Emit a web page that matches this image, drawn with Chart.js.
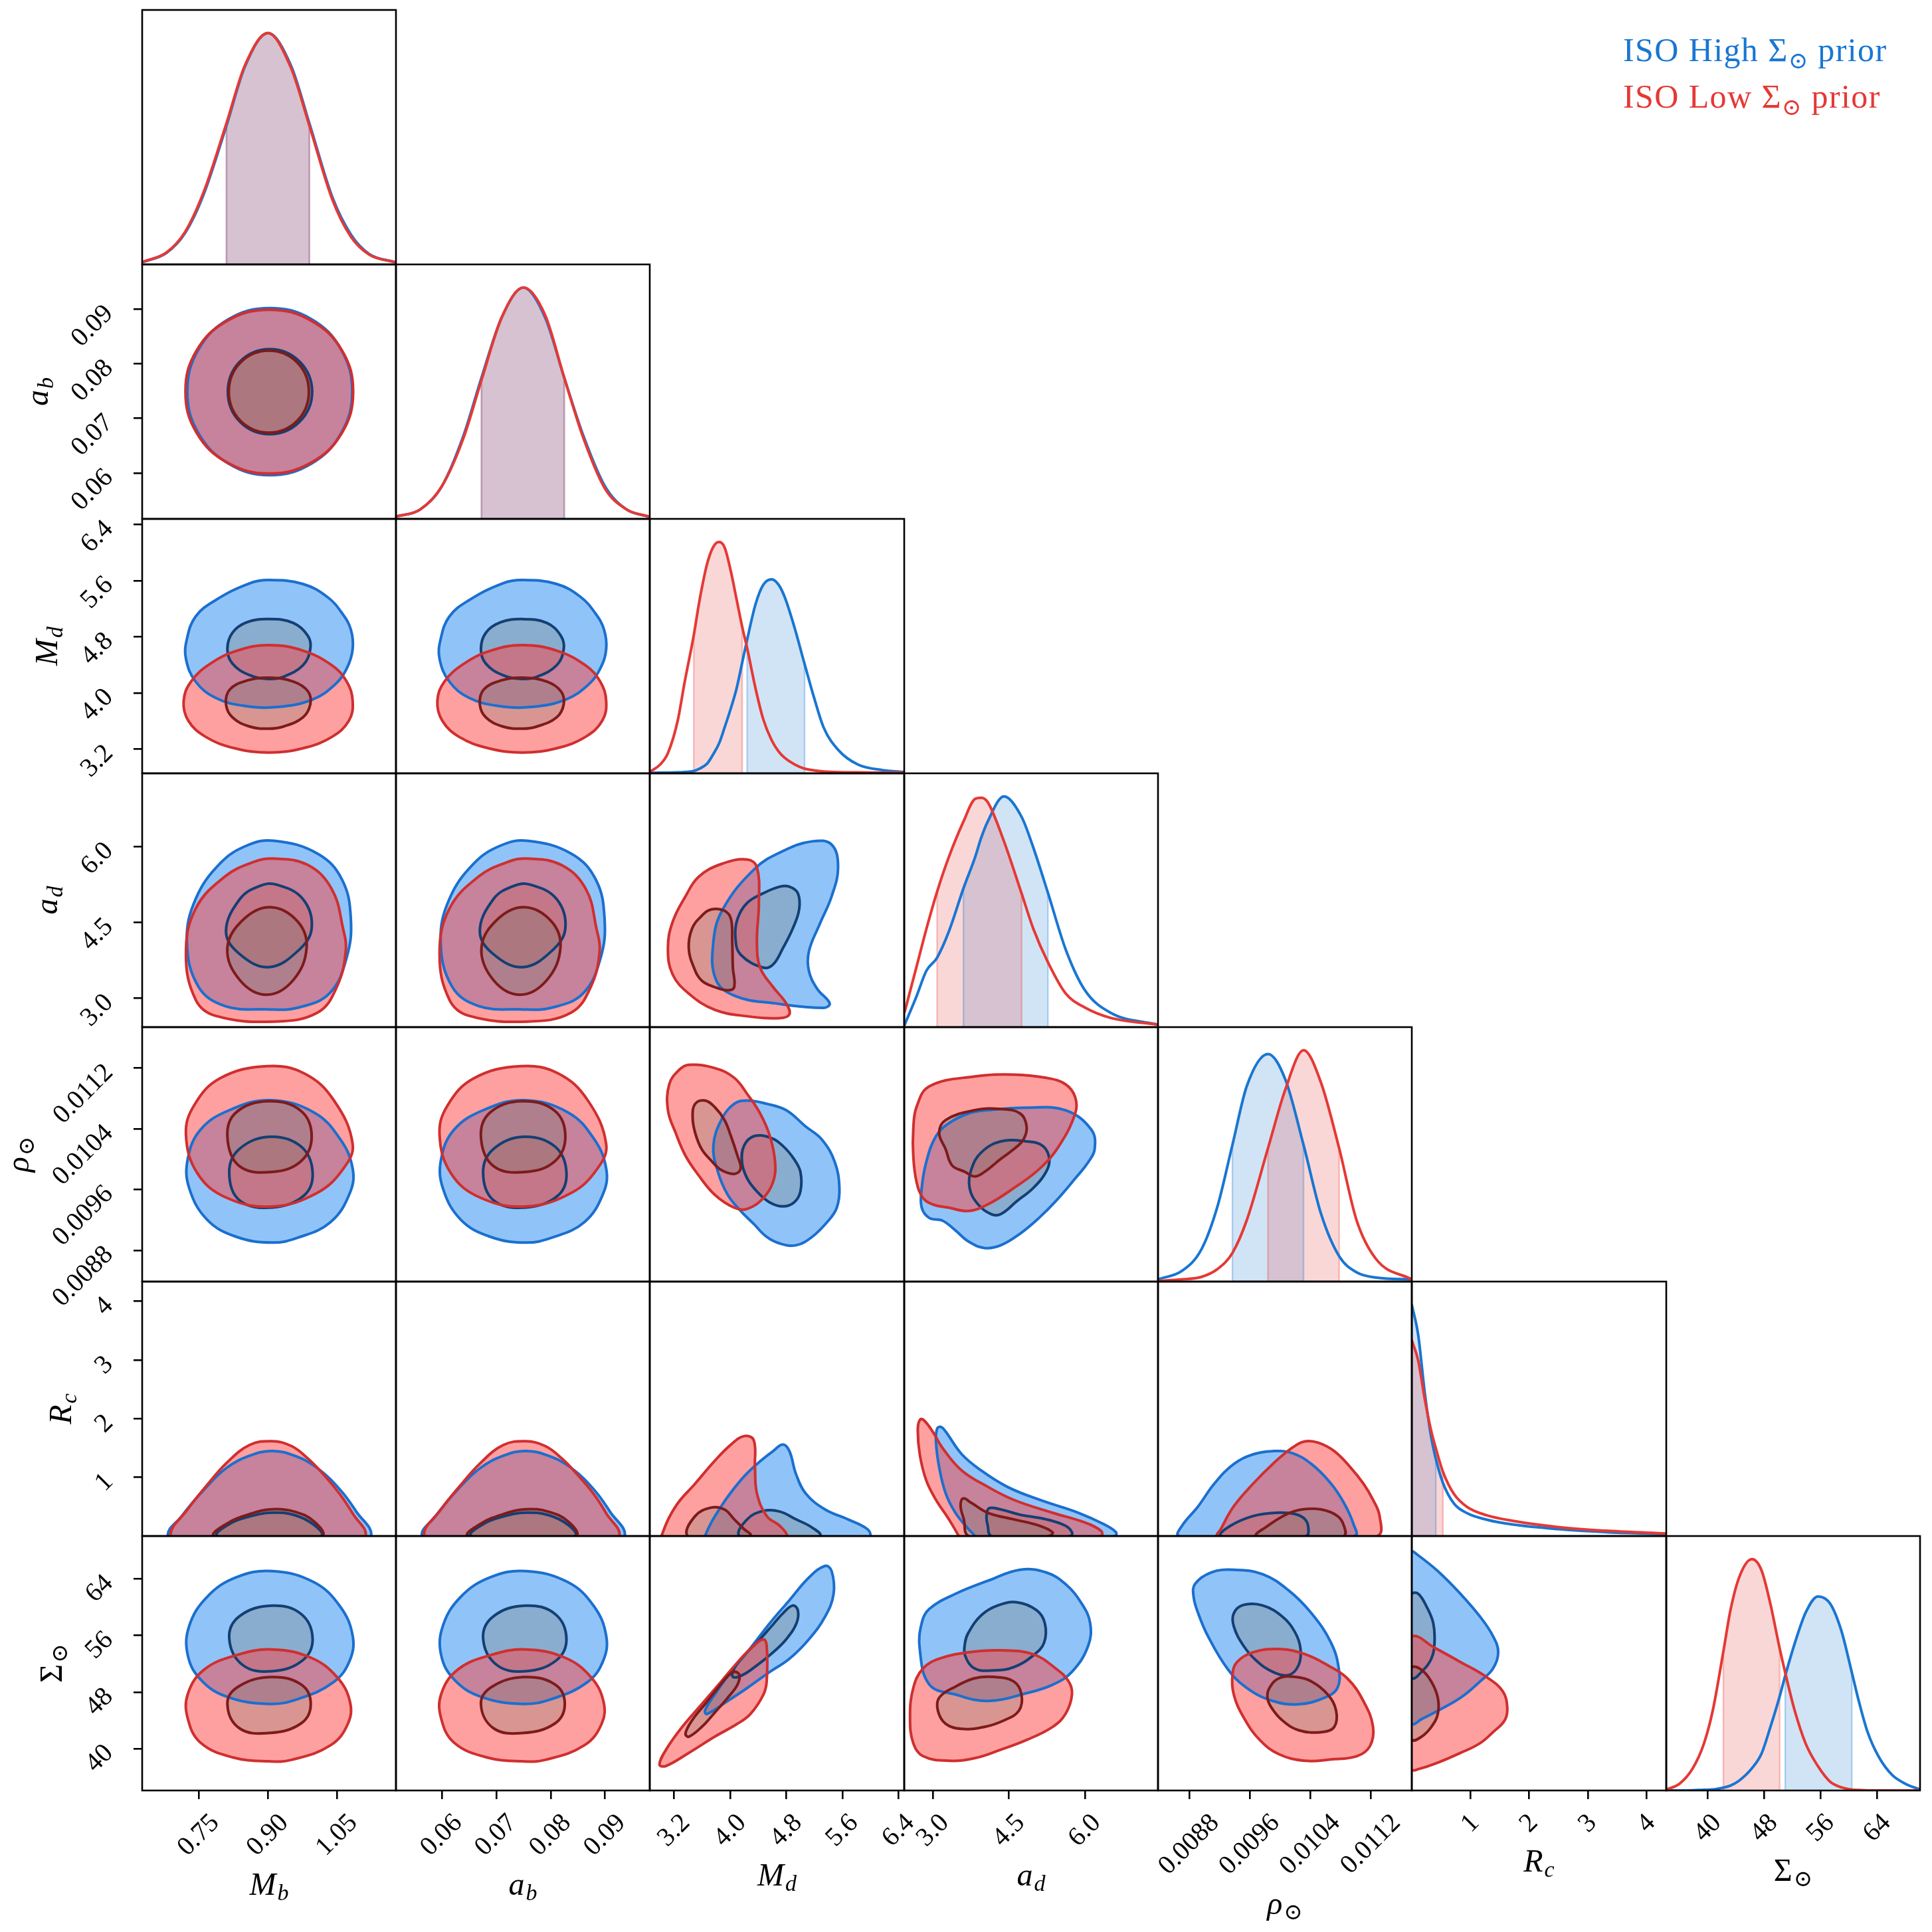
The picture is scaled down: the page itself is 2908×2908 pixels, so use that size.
<!DOCTYPE html>
<html>
<head>
<meta charset="utf-8">
<script src="https://cdn.jsdelivr.net/npm/chart.js@4/dist/chart.umd.min.js"></script>
<style>
  html, body { margin: 0; padding: 0; background: #fff; }
  body { width: 2908px; height: 2908px; position: relative; overflow: hidden; }
  canvas { position: absolute; }
  .legend { position: absolute; left: 2443px; font-family: "Liberation Serif", "DejaVu Serif", "DejaVu Sans", serif; font-size: 50px; letter-spacing: 1.4px; line-height: 50px; white-space: nowrap; }
  .legend sub { font-size: 35px; vertical-align: baseline; position: relative; top: 11px; }
</style>
</head>
<body>
<script>
// parameter order: M_b, a_b, M_d, a_d, rho_sun, R_c, Sigma_sun
const axisMin = [0.627, 0.0516, 2.852, 2.43, 0.008387, 0, 34.1];
const axisMax = [1.178, 0.0982, 6.48, 7.445, 0.01174, 4.335, 70.05];
const tickValues = [
  [0.75, 0.90, 1.05],
  [0.06, 0.07, 0.08, 0.09],
  [3.2, 4.0, 4.8, 5.6, 6.4],
  [3.0, 4.5, 6.0],
  [0.0088, 0.0096, 0.0104, 0.0112],
  [1, 2, 3, 4],
  [40, 48, 56, 64]
];
const tickLabels = [
  ["0.75", "0.90", "1.05"],
  ["0.06", "0.07", "0.08", "0.09"],
  ["3.2", "4.0", "4.8", "5.6", "6.4"],
  ["3.0", "4.5", "6.0"],
  ["0.0088", "0.0096", "0.0104", "0.0112"],
  ["1", "2", "3", "4"],
  ["40", "48", "56", "64"]
];
const titleMain = ["M", "a", "M", "a", "ρ", "R", "Σ"];
const titleSub = ["b", "b", "d", "d", "⊙", "c", "⊙"];
const legendLabels = ["ISO High Σ⊙ prior", "ISO Low Σ⊙ prior"];

// 1D marginals (relative density), high prior / low prior, and 16-84% bands
const mbGrid = [0.63, 0.68, 0.72, 0.76, 0.81, 0.85, 0.90, 0.95, 0.99, 1.04, 1.08, 1.12, 1.175];
const mbHigh = [0.011, 0.05, 0.135, 0.30, 0.60, 0.855, 1.0, 0.86, 0.61, 0.29, 0.13, 0.045, 0.01];
const mbLow = [0.012, 0.052, 0.14, 0.31, 0.61, 0.86, 1.0, 0.85, 0.60, 0.28, 0.12, 0.042, 0.01];
const mbBandHigh = [0.81, 0.99];
const mbBandLow = [0.81, 0.99];

const abGrid = [0.0516, 0.056, 0.060, 0.064, 0.0673, 0.071, 0.075, 0.079, 0.0825, 0.086, 0.090, 0.094, 0.098];
const abHigh = [0.01, 0.04, 0.14, 0.36, 0.61, 0.87, 1.0, 0.87, 0.61, 0.36, 0.14, 0.04, 0.01];
const abLow = [0.01, 0.04, 0.14, 0.35, 0.60, 0.87, 1.0, 0.88, 0.61, 0.35, 0.13, 0.04, 0.01];
const abBandHigh = [0.0673, 0.0825];
const abBandLow = [0.0673, 0.0825];

const mdGrid = [2.86, 3.0, 3.11, 3.25, 3.35, 3.48, 3.56, 3.67, 3.76, 3.84, 3.92, 4.01, 4.09, 4.17, 4.24, 4.36, 4.47, 4.59, 4.69, 4.78, 4.92, 5.06, 5.19, 5.33, 5.54, 5.82, 6.17, 6.48];
const mdHigh = [0.001, 0.003, 0.003, 0.004, 0.006, 0.010, 0.020, 0.042, 0.084, 0.129, 0.199, 0.283, 0.367, 0.479, 0.577, 0.731, 0.815, 0.839, 0.815, 0.759, 0.626, 0.472, 0.332, 0.199, 0.101, 0.038, 0.014, 0.006];
const mdLow = [0.008, 0.038, 0.087, 0.227, 0.395, 0.598, 0.745, 0.906, 0.980, 1.0, 0.976, 0.871, 0.752, 0.633, 0.542, 0.367, 0.234, 0.143, 0.094, 0.066, 0.038, 0.020, 0.013, 0.008, 0.005, 0.004, 0.003, 0.003];
const mdBandHigh = [4.24, 5.06];
const mdBandLow = [3.48, 4.17];

const adGrid = [2.44, 2.67, 2.87, 3.08, 3.31, 3.60, 3.83, 3.95, 4.08, 4.40, 4.75, 4.98, 5.27, 5.62, 6.0, 6.51, 7.44];
const adHigh = [0.011, 0.132, 0.245, 0.301, 0.413, 0.601, 0.736, 0.820, 0.891, 1.0, 0.911, 0.779, 0.582, 0.337, 0.160, 0.062, 0.011];
const adLow = [0.067, 0.259, 0.427, 0.587, 0.736, 0.891, 0.989, 0.994, 0.975, 0.806, 0.579, 0.427, 0.281, 0.146, 0.085, 0.040, 0.011];
const adBandHigh = [3.60, 5.27];
const adBandLow = [3.08, 4.75];

const rhoGrid = [0.0084, 0.0087, 0.00896, 0.00917, 0.00937, 0.00956, 0.00984, 0.01007, 0.01031, 0.01054, 0.01078, 0.01101, 0.01127, 0.01174];
const rhoHigh = [0.011, 0.045, 0.138, 0.320, 0.587, 0.840, 0.978, 0.868, 0.587, 0.292, 0.109, 0.040, 0.017, 0.009];
const rhoLow = [0.003, 0.009, 0.020, 0.053, 0.123, 0.264, 0.573, 0.826, 0.994, 0.855, 0.573, 0.264, 0.096, 0.009];
const rhoBandHigh = [0.00937, 0.01031];
const rhoBandLow = [0.00984, 0.01078];

const rcGrid = [0, 0.11, 0.22, 0.33, 0.41, 0.53, 0.72, 0.94, 1.27, 1.71, 2.49, 3.37, 4.335];
const rcHigh = [1.0, 0.868, 0.621, 0.428, 0.333, 0.230, 0.140, 0.099, 0.071, 0.050, 0.030, 0.016, 0.009];
const rcLow = [0.846, 0.758, 0.593, 0.455, 0.379, 0.278, 0.181, 0.126, 0.090, 0.066, 0.039, 0.022, 0.011];
const rcBandHigh = [0, 0.41];
const rcBandLow = [0, 0.53];

const sigGrid = [34.1, 35.98, 37.86, 39.43, 40.69, 42.19, 43.2, 44.45, 46.24, 47.59, 48.84, 50.16, 50.95, 52.29, 53.86, 55.59, 57.31, 58.88, 60.39, 61.39, 62.65, 64.21, 66.1, 67.98, 70.05];
const sigHigh = [0, 0, 0.001, 0.003, 0.004, 0.012, 0.021, 0.043, 0.096, 0.159, 0.273, 0.406, 0.496, 0.635, 0.770, 0.839, 0.808, 0.693, 0.510, 0.385, 0.250, 0.145, 0.067, 0.029, 0.004];
const sigLow = [0.004, 0.029, 0.096, 0.202, 0.346, 0.601, 0.780, 0.923, 1.0, 0.952, 0.808, 0.615, 0.510, 0.346, 0.202, 0.105, 0.038, 0.014, 0.004, 0.002, 0, 0, 0, 0, 0];
const sigBandHigh = [50.95, 60.39];
const sigBandLow = [42.19, 50.16];

// 2D credible contours [x, y]: hiOut/hiIn = high prior outer/inner, loOut/loIn = low prior
const ab_mb_hiOut = [[1.083,0.0749],[1.059,0.0826],[0.994,0.0882],[0.904,0.0902],[0.815,0.0882],[0.749,0.0826],[0.725,0.0749],[0.749,0.0673],[0.815,0.0617],[0.904,0.0596],[0.994,0.0617],[1.059,0.0673]];
const ab_mb_hiIn = [[0.996,0.0749],[0.969,0.0804],[0.904,0.0827],[0.839,0.0804],[0.813,0.0749],[0.839,0.0694],[0.904,0.0671],[0.969,0.0694]];
const ab_mb_loOut = [[1.085,0.0749],[1.061,0.0824],[0.994,0.0879],[0.903,0.0899],[0.812,0.0879],[0.745,0.0824],[0.721,0.0749],[0.745,0.0674],[0.812,0.0619],[0.903,0.0599],[0.994,0.0619],[1.061,0.0674]];
const ab_mb_loIn = [[0.989,0.0749],[0.964,0.0802],[0.902,0.0824],[0.840,0.0802],[0.815,0.0749],[0.840,0.0696],[0.902,0.0674],[0.964,0.0696]];

const md_mb_hiOut = [[0.902,5.608],[0.976,5.552],[1.029,5.367],[1.061,5.135],[1.080,4.903],[1.084,4.624],[1.071,4.346],[1.045,4.114],[0.997,3.905],[0.923,3.799],[0.849,3.813],[0.786,3.929],[0.743,4.160],[0.722,4.485],[0.724,4.764],[0.743,5.088],[0.786,5.320],[0.860,5.561]];
const md_mb_hiIn = [[0.902,5.051],[0.955,4.996],[0.987,4.810],[0.992,4.624],[0.976,4.392],[0.934,4.230],[0.902,4.198],[0.860,4.253],[0.823,4.416],[0.812,4.624],[0.823,4.856],[0.854,5.005]];
const md_mb_loOut = [[0.902,4.680],[0.976,4.601],[1.039,4.392],[1.071,4.161],[1.084,3.882],[1.076,3.604],[1.039,3.372],[0.976,3.210],[0.902,3.149],[0.828,3.210],[0.765,3.372],[0.727,3.604],[0.717,3.882],[0.733,4.161],[0.775,4.416],[0.833,4.601]];
const md_mb_loIn = [[0.902,4.216],[0.955,4.161],[0.987,4.021],[0.992,3.836],[0.976,3.650],[0.934,3.520],[0.902,3.488],[0.860,3.520],[0.823,3.650],[0.809,3.836],[0.817,4.045],[0.854,4.174]];

const md_ab_hiOut = [[0.0748,5.608],[0.0811,5.552],[0.0855,5.367],[0.0882,5.135],[0.0898,4.903],[0.0902,4.624],[0.0891,4.346],[0.0869,4.114],[0.0828,3.905],[0.0766,3.799],[0.0703,3.813],[0.0650,3.929],[0.0614,4.160],[0.0596,4.485],[0.0598,4.764],[0.0614,5.088],[0.0650,5.320],[0.0712,5.561]];
const md_ab_hiIn = [[0.0748,5.051],[0.0793,4.996],[0.0819,4.810],[0.0824,4.624],[0.0811,4.392],[0.0775,4.230],[0.0748,4.198],[0.0712,4.253],[0.0681,4.416],[0.0672,4.624],[0.0681,4.856],[0.0708,5.005]];
const md_ab_loOut = [[0.0748,4.680],[0.0811,4.601],[0.0864,4.392],[0.0891,4.161],[0.0902,3.882],[0.0895,3.604],[0.0864,3.372],[0.0811,3.210],[0.0748,3.149],[0.0686,3.210],[0.0632,3.372],[0.0601,3.604],[0.0592,3.882],[0.0605,4.161],[0.0641,4.416],[0.0690,4.601]];
const md_ab_loIn = [[0.0748,4.216],[0.0793,4.161],[0.0819,4.021],[0.0824,3.836],[0.0811,3.650],[0.0775,3.520],[0.0748,3.488],[0.0712,3.520],[0.0681,3.650],[0.0670,3.836],[0.0677,4.045],[0.0708,4.174]];

const ad_mb_hiOut = [[0.913,6.113],[1.008,5.857],[1.061,5.344],[1.080,4.576],[1.071,3.807],[1.034,3.102],[0.965,2.814],[0.897,2.782],[0.807,2.846],[0.749,3.231],[0.724,4.127],[0.743,4.960],[0.796,5.664],[0.854,6.017]];
const ad_mb_hiIn = [[0.918,5.248],[0.976,4.960],[0.995,4.383],[0.965,3.935],[0.902,3.615],[0.839,3.871],[0.809,4.319],[0.839,4.960],[0.881,5.216]];
const ad_mb_loOut = [[0.913,5.760],[0.987,5.632],[1.039,5.152],[1.063,4.383],[1.069,3.935],[1.050,3.231],[1.008,2.718],[0.913,2.539],[0.786,2.654],[0.743,2.974],[0.722,3.871],[0.743,4.768],[0.807,5.408],[0.870,5.696]];
const ad_mb_loIn = [[0.907,4.800],[0.965,4.512],[0.984,3.999],[0.955,3.359],[0.897,3.070],[0.839,3.359],[0.812,3.999],[0.849,4.576]];

const ad_ab_hiOut = [[0.0757,6.113],[0.0838,5.857],[0.0883,5.344],[0.0899,4.576],[0.0892,3.807],[0.0860,3.102],[0.0802,2.814],[0.0744,2.782],[0.0668,2.846],[0.0619,3.231],[0.0598,4.127],[0.0614,4.960],[0.0659,5.664],[0.0708,6.017]];
const ad_ab_hiIn = [[0.0762,5.248],[0.0811,4.960],[0.0827,4.383],[0.0802,3.935],[0.0749,3.615],[0.0695,3.871],[0.0670,4.319],[0.0695,4.960],[0.0731,5.216]];
const ad_ab_loOut = [[0.0757,5.760],[0.0820,5.632],[0.0865,5.152],[0.0884,4.383],[0.0890,3.935],[0.0874,3.231],[0.0838,2.718],[0.0757,2.539],[0.0650,2.654],[0.0614,2.974],[0.0596,3.871],[0.0614,4.768],[0.0668,5.408],[0.0722,5.696]];
const ad_ab_loIn = [[0.0753,4.800],[0.0802,4.512],[0.0818,3.999],[0.0793,3.359],[0.0744,3.070],[0.0695,3.359],[0.0673,3.999],[0.0704,4.576]];

const ad_md_hiOut = [[5.167,6.101],[5.445,6.037],[5.537,5.589],[5.445,5.013],[5.278,4.475],[5.121,3.925],[5.121,3.541],[5.241,3.183],[5.417,2.901],[5.334,2.811],[4.630,2.901],[4.074,3.042],[3.797,3.362],[3.759,4.117],[3.898,4.770],[4.352,5.563],[4.750,5.909]];
const ad_md_hiIn = [[4.843,5.205],[4.963,5.077],[4.982,4.757],[4.889,4.373],[4.750,3.989],[4.611,3.669],[4.473,3.605],[4.148,3.861],[4.074,4.181],[4.102,4.565],[4.241,4.885],[4.473,5.077],[4.704,5.205]];
const ad_md_loOut = [[4.241,5.743],[4.380,5.589],[4.408,4.885],[4.380,4.117],[4.426,3.605],[4.611,3.221],[4.797,2.901],[4.843,2.683],[4.704,2.607],[4.241,2.645],[3.778,2.773],[3.408,3.093],[3.176,3.477],[3.111,3.989],[3.176,4.501],[3.361,5.013],[3.547,5.397],[3.871,5.653]];
const ad_md_loIn = [[3.732,4.757],[3.917,4.731],[4.010,4.565],[4.028,4.117],[4.037,3.605],[4.056,3.221],[3.963,3.157],[3.778,3.221],[3.593,3.349],[3.482,3.605],[3.408,3.989],[3.454,4.373],[3.593,4.629]];

const rho_mb_hiOut = [[0.905,0.010777],[1.000,0.010616],[1.057,0.010263],[1.084,0.009877],[1.078,0.009556],[1.036,0.009171],[0.965,0.008965],[0.909,0.008901],[0.831,0.008978],[0.768,0.009203],[0.729,0.009620],[0.726,0.010006],[0.754,0.010391],[0.817,0.010648]];
const rho_mb_hiIn = [[0.905,0.010295],[0.972,0.010166],[0.997,0.009832],[0.979,0.009524],[0.909,0.009363],[0.838,0.009460],[0.816,0.009832],[0.838,0.010134]];
const rho_mb_loOut = [[0.898,0.011226],[0.979,0.011130],[1.043,0.010777],[1.084,0.010198],[1.064,0.009877],[1.007,0.009556],[0.909,0.009376],[0.810,0.009492],[0.747,0.009813],[0.722,0.010327],[0.740,0.010712],[0.796,0.011066]];
const rho_mb_loIn = [[0.902,0.010764],[0.972,0.010635],[0.995,0.010295],[0.972,0.009974],[0.909,0.009832],[0.838,0.009909],[0.812,0.010295],[0.831,0.010616]];

const rho_ab_hiOut = [[0.0751,0.010777],[0.0832,0.010616],[0.0880,0.010263],[0.0902,0.009877],[0.0897,0.009556],[0.0862,0.009171],[0.0802,0.008965],[0.0754,0.008901],[0.0689,0.008978],[0.0635,0.009203],[0.0602,0.009620],[0.0599,0.010006],[0.0623,0.010391],[0.0677,0.010648]];
const rho_ab_hiIn = [[0.0751,0.010295],[0.0808,0.010166],[0.0829,0.009832],[0.0814,0.009524],[0.0754,0.009363],[0.0695,0.009460],[0.0676,0.009832],[0.0695,0.010134]];
const rho_ab_loOut = [[0.0745,0.011226],[0.0814,0.011130],[0.0868,0.010777],[0.0902,0.010198],[0.0886,0.009877],[0.0838,0.009556],[0.0754,0.009376],[0.0671,0.009492],[0.0617,0.009813],[0.0596,0.010327],[0.0611,0.010712],[0.0659,0.011066]];
const rho_ab_loIn = [[0.0748,0.010764],[0.0808,0.010635],[0.0827,0.010295],[0.0808,0.009974],[0.0754,0.009832],[0.0695,0.009909],[0.0672,0.010295],[0.0689,0.010616]];

const rho_md_hiOut = [[4.241,0.010773],[4.519,0.010730],[4.797,0.010645],[5.074,0.010431],[5.306,0.010259],[5.491,0.009960],[5.556,0.009618],[5.519,0.009361],[5.399,0.009190],[5.167,0.008976],[4.936,0.008865],[4.704,0.008890],[4.519,0.008976],[4.334,0.009147],[4.148,0.009318],[3.963,0.009532],[3.824,0.009832],[3.759,0.010174],[3.871,0.010516],[4.056,0.010730]];
const rho_md_hiIn = [[4.334,0.010302],[4.565,0.010285],[4.750,0.010174],[4.908,0.010003],[5.000,0.009832],[5.000,0.009575],[4.908,0.009429],[4.750,0.009378],[4.565,0.009429],[4.380,0.009575],[4.241,0.009746],[4.167,0.009960],[4.195,0.010174]];
const rho_md_loOut = [[3.408,0.011244],[3.778,0.011201],[4.056,0.011072],[4.241,0.010859],[4.426,0.010602],[4.565,0.010302],[4.639,0.009960],[4.611,0.009703],[4.473,0.009489],[4.241,0.009344],[4.056,0.009361],[3.778,0.009532],[3.547,0.009789],[3.361,0.010046],[3.222,0.010345],[3.111,0.010645],[3.130,0.010987],[3.269,0.011175]];
const rho_md_loIn = [[3.500,0.010730],[3.639,0.010773],[3.778,0.010687],[3.917,0.010516],[4.010,0.010302],[4.102,0.010046],[4.148,0.009874],[4.056,0.009806],[3.871,0.009857],[3.732,0.009977],[3.593,0.010131],[3.500,0.010345],[3.463,0.010559]];

const rho_ad_hiOut = [[4.081,0.010645],[4.849,0.010679],[5.617,0.010645],[6.129,0.010388],[6.193,0.010131],[6.065,0.009960],[5.809,0.009746],[5.425,0.009447],[5.105,0.009233],[4.721,0.009019],[4.337,0.008865],[4.017,0.008830],[3.697,0.008916],[3.441,0.009062],[3.185,0.009190],[2.929,0.009224],[2.776,0.009361],[2.776,0.009618],[2.865,0.009960],[3.057,0.010302],[3.313,0.010473],[3.697,0.010602]];
const rho_ad_hiIn = [[4.337,0.010234],[4.849,0.010234],[5.169,0.010174],[5.297,0.010003],[5.233,0.009832],[4.977,0.009618],[4.657,0.009447],[4.337,0.009276],[4.145,0.009276],[3.889,0.009404],[3.723,0.009618],[3.761,0.009874],[3.953,0.010089]];
const rho_ad_loOut = [[2.929,0.010961],[3.825,0.011090],[4.593,0.011115],[5.233,0.011072],[5.617,0.010987],[5.809,0.010816],[5.809,0.010602],[5.489,0.010174],[5.105,0.009874],[4.593,0.009618],[4.081,0.009404],[3.697,0.009318],[3.313,0.009361],[2.993,0.009404],[2.801,0.009489],[2.673,0.009703],[2.609,0.010046],[2.609,0.010388],[2.673,0.010687]];
const rho_ad_loIn = [[3.825,0.010645],[4.337,0.010662],[4.721,0.010602],[4.849,0.010431],[4.785,0.010259],[4.593,0.010131],[4.337,0.010003],[4.017,0.009832],[3.825,0.009772],[3.633,0.009832],[3.377,0.009917],[3.249,0.010131],[3.121,0.010345],[3.249,0.010516]];

const rc_mb_hiOut = [[0.683,0],[0.712,0.332],[0.761,0.787],[0.810,1.160],[0.860,1.367],[0.909,1.450],[0.958,1.367],[1.007,1.160],[1.057,0.787],[1.092,0.415],[1.124,0],[1.07,-0.4],[0.90,-0.5],[0.73,-0.4]];
const rc_mb_hiIn = [[0.790,0],[0.817,0.207],[0.860,0.332],[0.909,0.398],[0.958,0.357],[1.000,0.191],[1.016,0],[0.90,-0.3]];
const rc_mb_loOut = [[0.689,0],[0.726,0.456],[0.768,0.870],[0.810,1.243],[0.860,1.550],[0.909,1.616],[0.951,1.533],[0.986,1.326],[1.022,1.036],[1.057,0.704],[1.085,0.373],[1.112,0],[1.06,-0.4],[0.90,-0.5],[0.74,-0.4]];
const rc_mb_loIn = [[0.783,0],[0.810,0.207],[0.860,0.373],[0.909,0.456],[0.958,0.415],[1.000,0.249],[1.018,0],[0.90,-0.3]];

const rc_ab_hiOut = [[0.0564,0],[0.0588,0.332],[0.0629,0.787],[0.0671,1.160],[0.0713,1.367],[0.0754,1.450],[0.0796,1.367],[0.0838,1.160],[0.0880,0.787],[0.0909,0.415],[0.0936,0],[0.0890,-0.4],[0.0754,-0.5],[0.0610,-0.4]];
const rc_ab_hiIn = [[0.0654,0],[0.0677,0.207],[0.0713,0.332],[0.0754,0.398],[0.0796,0.357],[0.0832,0.191],[0.0845,0],[0.0754,-0.3]];
const rc_ab_loOut = [[0.0568,0],[0.0599,0.456],[0.0635,0.870],[0.0671,1.243],[0.0713,1.550],[0.0754,1.616],[0.0790,1.533],[0.0820,1.326],[0.0850,1.036],[0.0880,0.704],[0.0903,0.373],[0.0926,0],[0.0882,-0.4],[0.0754,-0.5],[0.0620,-0.4]];
const rc_ab_loIn = [[0.0648,0],[0.0671,0.207],[0.0713,0.373],[0.0754,0.456],[0.0796,0.415],[0.0832,0.249],[0.0847,0],[0.0754,-0.3]];

const rc_md_hiOut = [[3.639,0],[3.871,0.507],[4.148,0.949],[4.380,1.226],[4.611,1.447],[4.750,1.558],[4.843,1.447],[4.936,1.060],[5.074,0.728],[5.352,0.452],[5.676,0.285],[5.954,0.119],[6.000,0],[5.95,-0.3],[4.8,-0.6],[3.6,-0.3]];
const rc_md_hiIn = [[4.130,0],[4.241,0.285],[4.473,0.429],[4.704,0.418],[4.936,0.285],[5.167,0.144],[5.278,0],[4.7,-0.3]];
const rc_md_loOut = [[3.019,0],[3.222,0.507],[3.500,0.894],[3.778,1.281],[4.010,1.558],[4.195,1.702],[4.334,1.635],[4.352,1.171],[4.380,0.728],[4.519,0.341],[4.704,0.175],[4.815,0],[4.85,-0.4],[3.9,-0.7],[2.95,-0.4]];
const rc_md_loIn = [[3.389,0],[3.500,0.341],[3.732,0.485],[3.917,0.452],[4.056,0.285],[4.195,0.119],[4.287,0],[3.85,-0.3]];

const rc_ad_hiOut = [[3.825,0],[3.697,0.120],[3.441,0.396],[3.249,0.728],[3.121,1.171],[3.057,1.613],[3.083,1.835],[3.160,1.857],[3.249,1.779],[3.569,1.392],[3.953,1.115],[4.465,0.839],[5.105,0.617],[5.873,0.396],[6.385,0.197],[6.616,0.064],[6.590,0],[5.2,-0.25],[3.9,-0.2]];
const rc_ad_hiIn = [[4.145,0],[4.081,0.175],[4.056,0.341],[4.107,0.474],[4.337,0.452],[4.721,0.363],[5.233,0.285],[5.617,0.175],[5.745,0.064],[5.719,0],[4.9,-0.2]];
const rc_ad_loOut = [[3.505,0],[3.313,0.285],[3.057,0.617],[2.865,0.949],[2.737,1.392],[2.699,1.835],[2.750,1.989],[2.827,1.967],[2.993,1.779],[3.185,1.503],[3.569,1.115],[4.081,0.839],[4.593,0.617],[5.361,0.396],[6.001,0.230],[6.321,0.086],[6.321,0],[5.0,-0.25],[3.6,-0.2]];
const rc_ad_loIn = [[3.697,0],[3.608,0.285],[3.544,0.507],[3.595,0.640],[3.761,0.562],[4.081,0.396],[4.593,0.285],[5.105,0.175],[5.361,0.064],[5.297,0],[4.5,-0.2]];

const rc_rho_hiOut = [[0.008661,0],[0.008704,0.175],[0.008918,0.507],[0.009132,0.894],[0.009388,1.226],[0.009645,1.392],[0.009902,1.447],[0.010159,1.414],[0.010415,1.226],[0.010672,0.894],[0.010850,0.55],[0.010971,0.2],[0.010990,0],[0.0098,-0.35]];
const rc_rho_hiIn = [[0.009217,0],[0.009345,0.175],[0.009645,0.341],[0.009945,0.396],[0.010201,0.374],[0.010330,0.285],[0.010373,0.144],[0.010347,0],[0.0098,-0.2]];
const rc_rho_loOut = [[0.009174,0],[0.009217,0.119],[0.009388,0.507],[0.009645,0.894],[0.009902,1.226],[0.010159,1.503],[0.010330,1.613],[0.010501,1.591],[0.010715,1.447],[0.010929,1.171],[0.011100,0.894],[0.011228,0.617],[0.011314,0.341],[0.011288,0],[0.0102,-0.35]];
const rc_rho_loIn = [[0.009688,0],[0.009816,0.155],[0.010073,0.363],[0.010287,0.452],[0.010544,0.452],[0.010758,0.341],[0.010843,0.175],[0.010843,0],[0.01027,-0.2]];

const sig_mb_hiOut = [[0.909,65.10],[1.000,63.52],[1.057,60.08],[1.084,55.96],[1.078,52.52],[1.043,49.43],[0.965,47.02],[0.902,46.33],[0.810,47.37],[0.754,49.77],[0.726,53.21],[0.729,57.33],[0.768,61.46],[0.831,64.21]];
const sig_mb_hiIn = [[0.909,60.22],[0.972,59.05],[0.997,55.61],[0.976,52.52],[0.909,50.94],[0.845,51.84],[0.816,55.61],[0.838,58.71]];
const sig_mb_loOut = [[0.909,54.03],[0.993,52.87],[1.050,50.12],[1.078,46.68],[1.074,43.58],[1.036,40.49],[0.951,38.43],[0.902,38.22],[0.824,38.77],[0.754,40.83],[0.726,44.27],[0.726,47.71],[0.761,51.15],[0.831,53.21]];
const sig_mb_loIn = [[0.905,50.12],[0.972,49.08],[0.993,46.33],[0.972,43.58],[0.902,42.21],[0.838,42.90],[0.812,46.33],[0.835,48.74]];

const sig_ab_hiOut = [[0.0754,65.10],[0.0832,63.52],[0.0880,60.08],[0.0902,55.96],[0.0897,52.52],[0.0868,49.43],[0.0802,47.02],[0.0748,46.33],[0.0671,47.37],[0.0623,49.77],[0.0599,53.21],[0.0602,57.33],[0.0635,61.46],[0.0689,64.21]];
const sig_ab_hiIn = [[0.0754,60.22],[0.0808,59.05],[0.0829,55.61],[0.0811,52.52],[0.0754,50.94],[0.0701,51.84],[0.0676,55.61],[0.0695,58.71]];
const sig_ab_loOut = [[0.0754,54.03],[0.0826,52.87],[0.0874,50.12],[0.0897,46.68],[0.0894,43.58],[0.0862,40.49],[0.0790,38.43],[0.0748,38.22],[0.0683,38.77],[0.0623,40.83],[0.0599,44.27],[0.0599,47.71],[0.0629,51.15],[0.0689,53.21]];
const sig_ab_loIn = [[0.0751,50.12],[0.0808,49.08],[0.0826,46.33],[0.0808,43.58],[0.0748,42.21],[0.0695,42.90],[0.0672,46.33],[0.0692,48.74]];

const sig_md_hiOut = [[5.352,65.83],[5.445,65.10],[5.473,61.88],[5.352,58.67],[5.121,55.46],[4.843,52.71],[4.565,50.87],[4.241,48.58],[3.963,46.75],[3.667,44.91],[3.639,45.37],[3.778,47.66],[4.010,50.87],[4.241,53.63],[4.565,57.76],[4.843,60.97],[5.121,64.18]];
const sig_md_hiIn = [[4.889,60.23],[4.963,59.59],[4.945,57.76],[4.797,55.46],[4.611,53.63],[4.380,51.79],[4.176,50.42],[4.037,50.14],[4.056,51.33],[4.195,53.17],[4.380,55.00],[4.611,57.57],[4.750,59.13]];
const sig_md_loOut = [[4.473,55.46],[4.519,54.54],[4.519,49.50],[4.473,47.66],[4.287,44.91],[4.102,43.53],[3.778,41.70],[3.408,39.41],[3.084,37.57],[2.991,37.75],[3.084,39.86],[3.315,43.08],[3.593,46.29],[3.871,49.50],[4.148,52.71],[4.334,54.54]];
const sig_md_loIn = [[4.056,50.87],[4.130,50.42],[4.102,49.04],[3.963,47.20],[3.778,45.10],[3.593,43.08],[3.408,41.70],[3.361,42.16],[3.454,44.00],[3.639,46.29],[3.824,48.58],[3.963,50.23]];

const sig_ad_hiOut = [[2.929,59.77],[3.441,61.88],[4.081,63.72],[4.721,65.28],[5.233,64.91],[5.617,63.26],[5.937,60.51],[6.104,57.76],[6.065,54.54],[5.745,50.87],[5.361,49.04],[4.849,47.85],[4.081,46.75],[3.441,47.66],[2.929,49.04],[2.737,54.09],[2.776,57.76]];
const sig_ad_hiIn = [[3.953,58.86],[4.273,60.23],[4.657,60.69],[5.041,59.59],[5.208,57.76],[5.195,55.00],[4.977,53.17],[4.593,51.52],[4.209,51.06],[3.825,51.33],[3.633,53.17],[3.633,55.00],[3.697,56.38]];
const sig_ad_loOut = [[2.609,48.58],[2.801,51.33],[3.121,52.71],[3.697,53.63],[4.337,53.90],[4.977,53.35],[5.425,51.33],[5.681,49.50],[5.745,47.66],[5.617,44.91],[5.361,43.08],[4.849,41.24],[4.337,39.86],[3.825,38.67],[3.313,38.30],[2.801,38.95],[2.609,40.78],[2.545,44.45]];
const sig_ad_loIn = [[3.121,47.20],[3.441,48.77],[3.825,49.96],[4.209,50.14],[4.593,49.50],[4.747,47.66],[4.696,45.37],[4.401,44.00],[4.017,43.08],[3.569,42.80],[3.249,43.53],[3.096,45.37]];

const sig_rho_hiOut = [[0.008875,63.26],[0.009089,64.91],[0.009388,65.28],[0.009773,64.64],[0.010116,62.34],[0.010415,59.13],[0.010672,55.00],[0.010775,51.33],[0.010758,48.58],[0.010586,47.20],[0.010244,46.29],[0.009902,46.75],[0.009559,48.58],[0.009303,51.33],[0.009046,55.92],[0.008918,59.13],[0.008858,61.43]];
const sig_rho_hiIn = [[0.009388,59.13],[0.009517,60.32],[0.009773,60.23],[0.010030,58.67],[0.010201,56.38],[0.010270,54.09],[0.010244,51.79],[0.010116,50.42],[0.009902,50.87],[0.009688,52.43],[0.009517,54.54],[0.009388,57.30]];
const sig_rho_loOut = [[0.009431,52.25],[0.009645,53.63],[0.009987,54.09],[0.010330,53.35],[0.010629,51.79],[0.010886,49.96],[0.011100,46.75],[0.011228,43.08],[0.011185,40.33],[0.011014,38.95],[0.010672,38.49],[0.010330,38.30],[0.009987,39.22],[0.009731,41.24],[0.009517,44.45],[0.009388,47.66],[0.009371,50.42]];
const sig_rho_loIn = [[0.009859,48.58],[0.009987,49.96],[0.010201,50.14],[0.010415,49.50],[0.010629,47.66],[0.010740,45.37],[0.010715,43.08],[0.010544,42.34],[0.010244,42.62],[0.010030,44.00],[0.009885,45.83],[0.009833,47.20]];

const sig_rc_hiOut = [[0,67.85],[0.055,67.66],[0.443,65.10],[0.830,61.88],[1.162,58.67],[1.383,55.92],[1.472,53.63],[1.383,51.33],[1.162,49.50],[0.830,47.20],[0.443,45.37],[0.166,44.18],[0,43.53],[-0.3,47],[-0.4,55.5],[-0.3,64]];
const sig_rc_hiIn = [[0,61.88],[0.111,61.88],[0.254,60.05],[0.365,57.76],[0.387,55.00],[0.332,52.71],[0.166,50.87],[0,49.96],[-0.2,53],[-0.25,56],[-0.2,59.5]];
const sig_rc_loOut = [[0,55.92],[0.387,54.27],[0.830,52.25],[1.272,50.14],[1.549,48.12],[1.626,45.83],[1.582,44.00],[1.383,42.34],[1.162,40.78],[0.830,39.41],[0.443,38.03],[0.111,37.11],[0,37.02],[-0.3,40],[-0.4,46.5],[-0.3,53]];
const sig_rc_loIn = [[0,51.52],[0.166,51.15],[0.332,49.50],[0.443,47.20],[0.443,44.91],[0.332,43.08],[0.166,41.70],[0,41.24],[-0.2,43.5],[-0.25,46.4],[-0.2,49.3]];

// ---- tables built from the arrays above ----
const densGrid = [mbGrid, abGrid, mdGrid, adGrid, rhoGrid, rcGrid, sigGrid];
const densHigh = [mbHigh, abHigh, mdHigh, adHigh, rhoHigh, rcHigh, sigHigh];
const densLow = [mbLow, abLow, mdLow, adLow, rhoLow, rcLow, sigLow];
const bandHigh = [mbBandHigh, abBandHigh, mdBandHigh, adBandHigh, rhoBandHigh, rcBandHigh, sigBandHigh];
const bandLow = [mbBandLow, abBandLow, mdBandLow, adBandLow, rhoBandLow, rcBandLow, sigBandLow];

const contourPanels = [
  { row: 1, col: 0, hi: [ab_mb_hiOut, ab_mb_hiIn], lo: [ab_mb_loOut, ab_mb_loIn] },
  { row: 2, col: 0, hi: [md_mb_hiOut, md_mb_hiIn], lo: [md_mb_loOut, md_mb_loIn] },
  { row: 2, col: 1, hi: [md_ab_hiOut, md_ab_hiIn], lo: [md_ab_loOut, md_ab_loIn] },
  { row: 3, col: 0, hi: [ad_mb_hiOut, ad_mb_hiIn], lo: [ad_mb_loOut, ad_mb_loIn] },
  { row: 3, col: 1, hi: [ad_ab_hiOut, ad_ab_hiIn], lo: [ad_ab_loOut, ad_ab_loIn] },
  { row: 3, col: 2, hi: [ad_md_hiOut, ad_md_hiIn], lo: [ad_md_loOut, ad_md_loIn] },
  { row: 4, col: 0, hi: [rho_mb_hiOut, rho_mb_hiIn], lo: [rho_mb_loOut, rho_mb_loIn] },
  { row: 4, col: 1, hi: [rho_ab_hiOut, rho_ab_hiIn], lo: [rho_ab_loOut, rho_ab_loIn] },
  { row: 4, col: 2, hi: [rho_md_hiOut, rho_md_hiIn], lo: [rho_md_loOut, rho_md_loIn] },
  { row: 4, col: 3, hi: [rho_ad_hiOut, rho_ad_hiIn], lo: [rho_ad_loOut, rho_ad_loIn] },
  { row: 5, col: 0, hi: [rc_mb_hiOut, rc_mb_hiIn], lo: [rc_mb_loOut, rc_mb_loIn] },
  { row: 5, col: 1, hi: [rc_ab_hiOut, rc_ab_hiIn], lo: [rc_ab_loOut, rc_ab_loIn] },
  { row: 5, col: 2, hi: [rc_md_hiOut, rc_md_hiIn], lo: [rc_md_loOut, rc_md_loIn] },
  { row: 5, col: 3, hi: [rc_ad_hiOut, rc_ad_hiIn], lo: [rc_ad_loOut, rc_ad_loIn] },
  { row: 5, col: 4, hi: [rc_rho_hiOut, rc_rho_hiIn], lo: [rc_rho_loOut, rc_rho_loIn] },
  { row: 6, col: 0, hi: [sig_mb_hiOut, sig_mb_hiIn], lo: [sig_mb_loOut, sig_mb_loIn] },
  { row: 6, col: 1, hi: [sig_ab_hiOut, sig_ab_hiIn], lo: [sig_ab_loOut, sig_ab_loIn] },
  { row: 6, col: 2, hi: [sig_md_hiOut, sig_md_hiIn], lo: [sig_md_loOut, sig_md_loIn] },
  { row: 6, col: 3, hi: [sig_ad_hiOut, sig_ad_hiIn], lo: [sig_ad_loOut, sig_ad_loIn] },
  { row: 6, col: 4, hi: [sig_rho_hiOut, sig_rho_hiIn], lo: [sig_rho_loOut, sig_rho_loIn] },
  { row: 6, col: 5, hi: [sig_rc_hiOut, sig_rc_hiIn], lo: [sig_rc_loOut, sig_rc_loIn] }
];

// ---- styles ----
const BLUE = "#1976d2", RED = "#e53935";
const BLUE_FILL = "rgba(33,137,241,0.5)", BLUE_CORE = "rgba(120,108,88,0.25)";
const RED_FILL = "rgba(255,65,65,0.5)", RED_CORE = "rgba(103,120,104,0.25)";
const BLUE_LINE = "#1b6fcf", BLUE_CORE_LINE = "#143f73";
const RED_LINE = "#d02f2f", RED_CORE_LINE = "#7d1b1b";
const SERIF = '"Liberation Serif", "DejaVu Serif", "DejaVu Sans", serif';
const UPRIGHT = ["Σ", "⊙"];

// contours are closed loops: make the line element wrap around smoothly
Chart.register({
  id: "closedContours",
  afterDatasetUpdate(chart, args) {
    const ds = chart.data.datasets[args.index];
    if (ds && ds.closed) {
      args.meta.dataset._loop = true;
      args.meta.dataset._fullLoop = true;
    }
  }
});

function drawTitle(ctx, p, cx, cy, angle) {
  const mainFont = (UPRIGHT.includes(titleMain[p]) ? "" : "italic ") + "48px " + SERIF;
  const subFont = (UPRIGHT.includes(titleSub[p]) ? "" : "italic ") + "34px " + SERIF;
  ctx.save();
  ctx.translate(cx, cy);
  ctx.rotate(angle);
  ctx.textAlign = "left";
  ctx.textBaseline = "alphabetic";
  ctx.font = mainFont;
  const mw = ctx.measureText(titleMain[p]).width;
  ctx.font = subFont;
  const sw = ctx.measureText(titleSub[p]).width;
  const x0 = -(mw + sw + 2) / 2;
  ctx.font = mainFont;
  ctx.fillText(titleMain[p], x0, 0);
  ctx.font = subFont;
  ctx.fillText(titleSub[p], x0 + mw + 2, 8);
  ctx.restore();
}

// panel frame, rotated tick labels and axis titles
Chart.register({
  id: "cornerAxes",
  afterDraw(chart, args, opts) {
    const ctx = chart.ctx, a = chart.chartArea;
    ctx.save();
    ctx.strokeStyle = "#000";
    ctx.lineWidth = 2.6;
    ctx.strokeRect(a.left, a.top, a.right - a.left, a.bottom - a.top);
    ctx.fillStyle = "#000";
    ctx.font = "40px " + SERIF;
    ctx.textAlign = "center";
    ctx.textBaseline = "middle";
    if (opts.xParam >= 0) {
      const s = chart.scales.x;
      let maxE = 0;
      s.ticks.forEach(t => {
        const e = (ctx.measureText(t.label).width + 28) / Math.SQRT2;
        maxE = Math.max(maxE, e);
        ctx.save();
        ctx.translate(s.getPixelForValue(t.value), a.bottom + 33 + e / 2);
        ctx.rotate(-Math.PI / 4);
        ctx.fillText(t.label, 0, 0);
        ctx.restore();
      });
      drawTitle(ctx, opts.xParam, (a.left + a.right) / 2, a.bottom + 33 + maxE + 55, 0);
    }
    if (opts.yParam >= 0) {
      const s = chart.scales.y;
      let minLeft = a.left;
      s.ticks.forEach(t => {
        const e = (ctx.measureText(t.label).width + 28) / Math.SQRT2;
        const py = s.getPixelForValue(t.value);
        minLeft = Math.min(minLeft, a.left - 40 - e);
        ctx.save();
        ctx.translate(a.left - 40 - e / 2, py - 9 + e / 2);
        ctx.rotate(-Math.PI / 4);
        ctx.fillText(t.label, 0, 0);
        ctx.restore();
      });
      drawTitle(ctx, opts.yParam, minLeft - 33, (a.top + a.bottom) / 2, -Math.PI / 2);
    }
    ctx.restore();
  }
});

const colEdge = c => Math.round(213.8 + c * 382.3);
const rowEdge = r => Math.round(15 + r * 382.86);

function axis(p, show) {
  return {
    type: "linear", bounds: "data", min: axisMin[p], max: axisMax[p], display: show,
    afterBuildTicks: s => { s.ticks = tickValues[p].map(v => ({ value: v })); },
    afterFit: s => { if (s.isHorizontal()) s.height = 0; else s.width = 0; },
    ticks: { display: false, callback: (v, i) => tickLabels[p][i] },
    grid: { drawOnChartArea: false, drawTicks: true, tickLength: 13, tickWidth: 2.6, tickColor: "#000", color: "#000", lineWidth: 2.6 },
    border: { display: false }
  };
}

function makePanel(row, col, datasets, yScale) {
  const x0 = colEdge(col), x1 = colEdge(col + 1), y0 = rowEdge(row), y1 = rowEdge(row + 1);
  const padL = col === 0 ? 213 : (row === 6 ? 40 : 10);
  const padR = row === 6 ? 40 : 10;
  const padT = col === 0 ? 30 : 10;
  const padB = row === 6 ? 212 : (col === 0 ? 80 : 10);
  const cv = document.createElement("canvas");
  cv.width = x1 - x0 + padL + padR;
  cv.height = y1 - y0 + padT + padB;
  cv.style.left = (x0 - padL) + "px";
  cv.style.top = (y0 - padT) + "px";
  document.body.appendChild(cv);
  new Chart(cv, {
    type: "line",
    data: { datasets },
    options: {
      responsive: false, animation: false, devicePixelRatio: 1, events: [],
      layout: { padding: { left: padL, right: padR, top: padT, bottom: padB } },
      elements: { point: { radius: 0, hoverRadius: 0 }, line: { borderJoinStyle: "round", borderCapStyle: "round" } },
      plugins: {
        legend: { display: false },
        tooltip: { enabled: false },
        // all filled regions first, contour lines on top (as in the original)
        filler: { drawTime: "beforeDatasetsDraw" },
        cornerAxes: { xParam: row === 6 ? col : -1, yParam: (col === 0 && row > 0) ? row : -1 }
      },
      scales: { x: axis(col, row === 6), y: yScale }
    }
  });
}

function contourDatasets(hi, lo) {
  const mk = (pts, bg, line, order) => ({
    data: pts.map(([x, y]) => ({ x, y })), closed: true, fill: "shape",
    backgroundColor: bg, borderColor: line, borderWidth: 4, tension: 0.4, order
  });
  return [
    mk(hi[0], BLUE_FILL, BLUE_LINE, 4),
    mk(hi[1], BLUE_CORE, BLUE_CORE_LINE, 3),
    mk(lo[0], RED_FILL, RED_LINE, 2),
    mk(lo[1], RED_CORE, RED_CORE_LINE, 1)
  ];
}

function densityDatasets(p) {
  const g = densGrid[p];
  const hi = g.map((x, i) => ({ x, y: densHigh[p][i] }));
  const lo = g.map((x, i) => ({ x, y: densLow[p][i] }));
  const band = (pts, b) => pts.filter(pt => pt.x >= b[0] && pt.x <= b[1]);
  const edges = (pts, b, color, order) => b.map(v => pts.find(pt => pt.x === v)).filter(Boolean)
    .map(pt => ({ data: [{ x: pt.x, y: 0 }, { x: pt.x, y: pt.y }], borderColor: color, borderWidth: 2.5, fill: false, order }));
  return [
    { data: band(hi, bandHigh[p]), fill: "origin", backgroundColor: "rgba(25,118,210,0.2)", borderWidth: 0, cubicInterpolationMode: "monotone", order: 8 },
    ...edges(hi, bandHigh[p], "rgba(25,118,210,0.3)", 7),
    { data: band(lo, bandLow[p]), fill: "origin", backgroundColor: "rgba(229,57,53,0.2)", borderWidth: 0, cubicInterpolationMode: "monotone", order: 6 },
    ...edges(lo, bandLow[p], "rgba(229,57,53,0.3)", 5),
    { data: hi, fill: false, borderColor: BLUE, borderWidth: 4, cubicInterpolationMode: "monotone", order: 4 },
    { data: lo, fill: false, borderColor: RED, borderWidth: 4, cubicInterpolationMode: "monotone", order: 3 }
  ];
}

// diagonal: 1D marginals
for (let p = 0; p < 7; p++) {
  const ymax = 1.1 * Math.max(...densHigh[p], ...densLow[p]);
  makePanel(p, p, densityDatasets(p), { type: "linear", display: false, min: 0, max: ymax });
}
// lower triangle: 2D contours
contourPanels.forEach(pn => {
  makePanel(pn.row, pn.col, contourDatasets(pn.hi, pn.lo), axis(pn.row, pn.col === 0));
});

// legend text (top right)
const legendColors = [BLUE, RED];
legendLabels.forEach((txt, i) => {
  const d = document.createElement("div");
  d.className = "legend";
  d.style.top = (50 + i * 70) + "px";
  d.style.color = legendColors[i];
  d.innerHTML = txt.replace("⊙", "<sub>⊙</sub>");
  document.body.appendChild(d);
});
</script>
</body>
</html>
